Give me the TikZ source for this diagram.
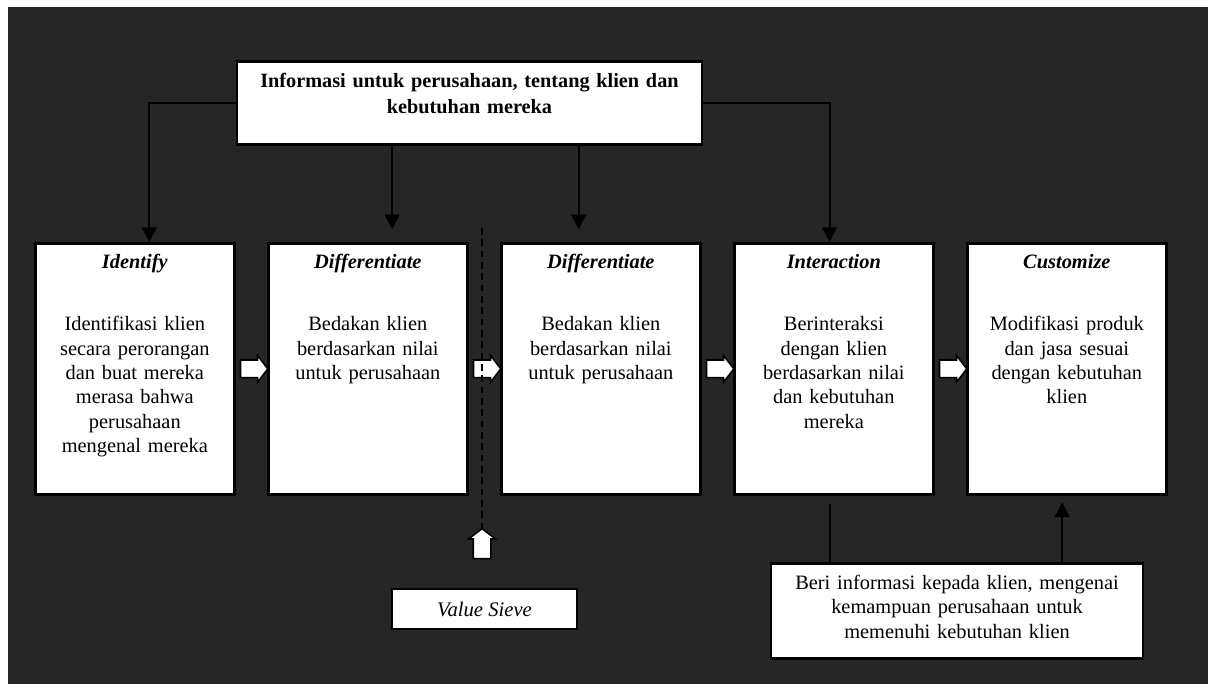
\documentclass[tikz,border=0pt]{standalone}
\usepackage{fontspec}
\setmainfont{Liberation Serif}
\usepackage{tikz}
\usetikzlibrary{arrows.meta,positioning,shapes.arrows}
\definecolor{bgdark}{HTML}{262626}
\newcommand{\steptitle}[1]{\textbf{\textit{#1}}\\[28.2pt]}

\begin{document}
\begin{tikzpicture}[x=0.75pt,y=-0.75pt,
  stepbox/.style={draw=black, line width=2pt, fill=white, text width=141.25pt,
    align=center, inner xsep=4pt, inner ysep=0pt, text height=19pt,
    text depth=169.25pt, font=\fontsize{15.3}{18.3}\selectfont},
  infobox/.style={draw=black, line width=2pt, fill=white, text width=340.75pt,
    align=center, inner xsep=4pt, inner ysep=0pt, text height=19.5pt,
    text depth=42.75pt, font=\bfseries\fontsize{15.2}{19.5}\selectfont},
  notebox/.style={draw=black, line width=2pt, fill=white, text width=271pt,
    align=center, inner xsep=4pt, inner ysep=0pt, text height=19.5pt,
    text depth=51.75pt, font=\fontsize{15.3}{18.3}\selectfont},
  sievebox/.style={draw=black, line width=2pt, fill=white, minimum width=138.75pt,
    minimum height=30pt, inner sep=0pt, font=\itshape\fontsize{15.5}{17}\selectfont},
  blockarr/.style={shape=single arrow, draw=black, line width=1.2pt, fill=white,
    minimum height=20.5pt, single arrow head extend=3.5pt, single arrow tip angle=105,
    single arrow head indent=0pt, inner xsep=0pt, inner ysep=6pt},
  conn/.style={draw=black, line width=1.5pt},
  tip/.style={-{Triangle[width=11pt,length=11pt]}},
  sieveline/.style={draw=black, line width=1.5pt, dash pattern=on 5pt off 3.5pt}
]
  \useasboundingbox (0,0) rectangle (1213,684);
  \fill[white] (0,0) rectangle (1213,684);
  \fill[bgdark] (8,7) rectangle (1208,684);

  \node[infobox, anchor=north] (info) at (469.5,60) {Informasi untuk perusahaan, tentang klien dan\\ kebutuhan mereka};

  \node[stepbox, anchor=north west] (id) at (34,242) {\steptitle{Identify}Identifikasi klien\\ secara perorangan\\ dan buat mereka\\ merasa bahwa\\ perusahaan\\ mengenal mereka};
  \node[stepbox, right=23.5pt of id] (d1) {\steptitle{Differentiate}Bedakan klien\\ berdasarkan nilai\\ untuk perusahaan};
  \node[stepbox, right=23.5pt of d1] (d2) {\steptitle{Differentiate}Bedakan klien\\ berdasarkan nilai\\ untuk perusahaan};
  \node[stepbox, right=23.5pt of d2] (int) {\steptitle{Interaction}Berinteraksi\\ dengan klien\\ berdasarkan nilai\\ dan kebutuhan\\ mereka};
  \node[stepbox, right=23.5pt of int] (cust) {\steptitle{Customize}Modifikasi produk\\ dan jasa sesuai\\ dengan kebutuhan\\ klien};

  \node[notebox, anchor=north] (note) at (957,562) {Beri informasi kepada klien, mengenai\\ kemampuan perusahaan untuk\\ memenuhi kebutuhan klien};
  \node[sievebox] (sieve) at (484.5,609) {Value Sieve};

  \node[blockarr, right=3pt of id] (a1) {};
  \node[blockarr, right=3pt of d1] (a2) {};
  \node[blockarr, right=3pt of d2] (a3) {};
  \node[blockarr, right=3pt of int] (a4) {};
  \node[blockarr, shape border rotate=90, inner xsep=6pt, inner ysep=5pt,
    minimum height=22.5pt] (sieveup) at (482,547) {};

  \coordinate (idin) at ([xshift=10.9pt]id.north);
  \coordinate (d1in) at ([xshift=18.2pt]d1.north);
  \coordinate (d2in) at ([xshift=-16.6pt]d2.north);
  \coordinate (intin) at ([xshift=-3.2pt]int.north);
  \coordinate (intout) at ([xshift=-3.2pt]int.south);
  \coordinate (custin) at ([xshift=-3.5pt]cust.south);
  \coordinate (sievetop) at (482,228);

  \draw[conn, tip] (info.west) -| (idin);
  \draw[conn, tip, shorten >=9.5pt] (d1in |- info.south) -- (d1in);
  \draw[conn, tip, shorten >=9.5pt] (d2in |- info.south) -- (d2in);
  \draw[conn, tip] (info.east) -| (intin);
  \draw[conn, shorten <=6pt] (intout) -- (intout |- note.north);
  \draw[conn, tip, shorten >=5pt] (custin |- note.north) -- (custin);

  \draw[sieveline] (sievetop) -- (sieveup.tip);
\end{tikzpicture}
\end{document}
